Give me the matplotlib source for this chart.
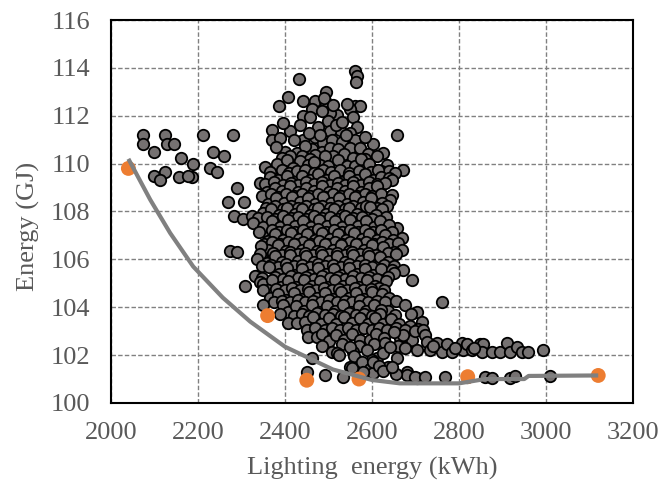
import matplotlib
matplotlib.use("Agg")
import matplotlib.pyplot as plt

plt.rcParams['font.family'] = ['Liberation Serif', 'DejaVu Serif']

# gray points: all simulated designs (lighting kWh, energy GJ)
left_group = [
    (2074, 111.2), (2074, 110.8), (2099, 110.5), (2124, 111.2), (2129, 110.8),
    (2145, 110.8), (2161, 110.25), (2189, 110.0), (2211, 111.2), (2234, 110.5),
    (2260, 110.3), (2280, 111.2), (2228, 109.8), (2243, 109.65), (2124, 109.65),
    (2099, 109.5), (2113, 109.3), (2156, 109.45), (2186, 109.45), (2177, 109.5),
    (2290, 109.0), (2269, 108.4), (2306, 108.4), (2283, 107.8), (2303, 107.7),
    (2324, 107.8), (2331, 107.5), (2274, 106.35), (2290, 106.3), (2308, 104.9),
    (2333, 105.3),
]

cluster_top = [
    (2432, 113.55), (2561, 113.85), (2565, 113.65), (2563, 113.4), (2494, 113.0),
    (2408, 112.8), (2441, 112.6), (2469, 112.6), (2492, 112.6), (2490, 112.75),
    (2386, 112.4), (2461, 112.3), (2561, 112.4), (2572, 112.4), (2550, 112.3),
    (2520, 112.05), (2503, 112.1), (2441, 112.0), (2457, 111.95), (2556, 111.95),
    (2498, 111.8), (2476, 111.55), (2566, 111.55), (2370, 111.4), (2411, 111.35),
    (2527, 111.4), (2503, 111.35), (2550, 111.3), (2657, 111.2), (2370, 111.0),
    (2388, 111.05), (2441, 111.0), (2469, 111.1), (2488, 110.85), (2508, 111.0),
    (2531, 110.9), (2561, 111.0), (2602, 110.8), (2517, 111.6), (2540, 111.2),
    (2455, 111.3), (2480, 111.2), (2420, 111.0), (2485, 112.2), (2530, 111.75),
    (2543, 112.5), (2435, 111.6), (2395, 111.7), (2583, 111.1), (2510, 112.45),
    (2400, 110.5), (2428, 110.45), (2462, 110.6), (2485, 110.5), (2503, 110.65),
    (2522, 110.6), (2549, 110.65), (2572, 110.65), (2625, 110.45), (2380, 110.7),
    (2445, 110.75), (2536, 110.4), (2590, 110.4), (2470, 110.35), (2510, 110.3),
    (2412, 110.3), (2392, 110.25), (2438, 110.3), (2457, 110.2), (2493, 110.3),
    (2556, 110.25), (2583, 110.2), (2612, 110.3),
]

cluster_mid = [
    (2381, 110.0), (2354, 109.85), (2404, 110.15), (2434, 110.1), (2453, 109.95),
    (2480, 109.95), (2498, 109.9), (2522, 110.15), (2542, 109.9), (2561, 109.9),
    (2575, 110.2), (2607, 109.75), (2634, 109.95), (2671, 109.75), (2418, 109.8),
    (2467, 110.05), (2592, 110.0), (2620, 109.7), (2640, 109.7),
    (2366, 109.65), (2392, 109.75), (2410, 109.6), (2428, 109.7), (2447, 109.75),
    (2466, 109.62), (2487, 109.72), (2505, 109.66), (2526, 109.75), (2548, 109.62),
    (2570, 109.7), (2597, 109.65), (2614, 109.75), (2652, 109.6),
    (2343, 109.2), (2365, 109.45), (2385, 109.3), (2404, 109.5), (2422, 109.25),
    (2440, 109.5), (2458, 109.3), (2476, 109.55), (2494, 109.3), (2512, 109.5),
    (2530, 109.25), (2548, 109.5), (2566, 109.3), (2584, 109.55), (2602, 109.3),
    (2620, 109.45), (2639, 109.4), (2646, 109.3),
    (2354, 109.15), (2375, 109.22), (2395, 109.12), (2413, 109.2), (2431, 109.1),
    (2449, 109.22), (2467, 109.14), (2485, 109.25), (2503, 109.1), (2521, 109.2),
    (2539, 109.12), (2557, 109.24), (2575, 109.1), (2593, 109.22), (2611, 109.15),
    (2630, 109.2),
    (2358, 108.8), (2376, 109.0), (2394, 108.85), (2412, 109.05), (2430, 108.8),
    (2448, 109.0), (2466, 108.85), (2484, 109.05), (2502, 108.8), (2520, 109.0),
    (2538, 108.85), (2556, 109.05), (2574, 108.8), (2592, 109.0), (2611, 109.05),
    (2630, 108.6),
    (2348, 108.65), (2367, 108.72), (2385, 108.62), (2403, 108.75), (2421, 108.66),
    (2439, 108.74), (2457, 108.64), (2475, 108.72), (2493, 108.62), (2511, 108.75),
    (2529, 108.66), (2547, 108.72), (2565, 108.64), (2583, 108.74), (2601, 108.66),
    (2620, 108.72), (2645, 108.7),
    (2361, 108.3), (2380, 108.55), (2398, 108.35), (2416, 108.6), (2434, 108.4),
    (2452, 108.55), (2470, 108.3), (2488, 108.6), (2506, 108.35), (2524, 108.55),
    (2542, 108.3), (2560, 108.6), (2579, 108.4), (2597, 108.55), (2641, 108.5),
    (2623, 108.35),
    (2356, 108.15), (2377, 108.22), (2395, 108.12), (2413, 108.24), (2431, 108.15),
    (2449, 108.22), (2467, 108.12), (2485, 108.25), (2503, 108.14), (2521, 108.22),
    (2539, 108.12), (2557, 108.24), (2575, 108.15), (2586, 108.22), (2612, 108.15),
    (2634, 108.22),
    (2350, 107.95), (2368, 108.1), (2386, 107.85), (2404, 108.15), (2422, 107.9),
    (2440, 108.1), (2458, 107.85), (2476, 108.15), (2494, 107.9), (2512, 108.1),
    (2530, 107.85), (2548, 108.15), (2566, 107.9), (2595, 108.2), (2623, 108.1),
    (2610, 107.85),
    (2338, 107.72), (2359, 107.78), (2377, 107.7), (2395, 107.8), (2413, 107.72),
    (2431, 107.78), (2449, 107.7), (2467, 107.8), (2485, 107.72), (2503, 107.78),
    (2521, 107.7), (2539, 107.8), (2557, 107.72), (2577, 107.78), (2600, 107.7),
    (2632, 107.78),
    (2326, 107.5), (2352, 107.2), (2349, 107.35), (2370, 107.6), (2388, 107.35),
    (2406, 107.65), (2424, 107.4), (2442, 107.6), (2460, 107.35), (2478, 107.65),
    (2496, 107.4), (2514, 107.6), (2532, 107.35), (2550, 107.65), (2568, 107.4),
    (2586, 107.6), (2604, 107.35), (2618, 107.6), (2657, 107.3), (2640, 107.45),
    (2341, 107.15), (2369, 107.22), (2387, 107.14), (2405, 107.24), (2423, 107.16),
    (2441, 107.22), (2459, 107.14), (2477, 107.25), (2495, 107.15), (2513, 107.22),
    (2531, 107.14), (2549, 107.24), (2567, 107.16), (2585, 107.22), (2603, 107.14),
    (2621, 107.22), (2645, 107.15),
    (2361, 106.75), (2378, 107.05), (2396, 106.8), (2414, 107.1), (2432, 106.85),
    (2450, 107.05), (2468, 106.8), (2486, 107.1), (2504, 106.85), (2522, 107.05),
    (2540, 106.8), (2558, 107.1), (2576, 106.85), (2594, 107.05), (2612, 106.8),
    (2630, 107.0), (2668, 106.9), (2648, 106.8),
    (2352, 106.65), (2370, 106.72), (2388, 106.64), (2406, 106.74), (2424, 106.66),
    (2442, 106.72), (2460, 106.64), (2478, 106.75), (2496, 106.65), (2514, 106.72),
    (2532, 106.64), (2550, 106.74), (2568, 106.66), (2586, 106.72), (2604, 106.64),
    (2622, 106.72), (2640, 106.66), (2660, 106.7),
    (2362, 106.4), (2345, 106.55), (2384, 106.6), (2402, 106.35), (2420, 106.65),
    (2438, 106.4), (2456, 106.6), (2474, 106.35), (2492, 106.65), (2510, 106.4),
    (2528, 106.6), (2546, 106.35), (2564, 106.65), (2582, 106.4), (2600, 106.6),
    (2625, 106.5), (2668, 106.4), (2650, 106.3),
]

cluster_low = [
    (2342, 106.22), (2373, 106.28), (2393, 106.2), (2411, 106.3), (2429, 106.22),
    (2447, 106.28), (2465, 106.2), (2483, 106.3), (2501, 106.22), (2519, 106.28),
    (2537, 106.2), (2555, 106.3), (2573, 106.22), (2591, 106.28), (2609, 106.2),
    (2636, 106.28), (2656, 106.22),
    (2336, 106.0), (2358, 105.85), (2376, 106.15), (2394, 105.9), (2412, 106.2),
    (2430, 105.95), (2448, 106.15), (2466, 105.9), (2484, 106.2), (2502, 105.95),
    (2520, 106.15), (2538, 105.9), (2556, 106.2), (2574, 105.95), (2592, 106.15),
    (2618, 106.1), (2636, 105.9),
    (2347, 105.72), (2367, 105.78), (2385, 105.7), (2403, 105.8), (2421, 105.72),
    (2439, 105.78), (2457, 105.7), (2475, 105.8), (2493, 105.72), (2511, 105.78),
    (2529, 105.7), (2547, 105.8), (2565, 105.72), (2583, 105.78), (2601, 105.7),
    (2627, 105.78), (2650, 105.72),
    (2332, 105.3), (2364, 105.7), (2386, 105.4), (2404, 105.65), (2422, 105.35),
    (2440, 105.6), (2458, 105.35), (2476, 105.65), (2494, 105.4), (2512, 105.6),
    (2530, 105.35), (2548, 105.65), (2566, 105.4), (2584, 105.6), (2602, 105.35),
    (2620, 105.6), (2646, 105.55), (2671, 105.55), (2651, 105.45),
    (2348, 105.22), (2376, 105.28), (2395, 105.2), (2413, 105.3), (2431, 105.22),
    (2449, 105.28), (2467, 105.2), (2485, 105.3), (2503, 105.22), (2521, 105.28),
    (2539, 105.2), (2557, 105.3), (2575, 105.22), (2593, 105.28), (2611, 105.2),
    (2637, 105.28),
    (2342, 105.05), (2349, 104.95), (2370, 105.15), (2390, 104.85), (2408, 105.1),
    (2426, 104.85), (2444, 105.15), (2462, 104.9), (2480, 105.1), (2498, 104.85),
    (2516, 105.15), (2534, 104.9), (2552, 105.1), (2570, 104.85), (2588, 105.15),
    (2606, 104.9), (2632, 105.1), (2692, 105.15), (2615, 104.8),
    (2360, 104.72), (2380, 104.78), (2399, 104.7), (2417, 104.8), (2435, 104.72),
    (2453, 104.78), (2471, 104.7), (2489, 104.8), (2507, 104.72), (2525, 104.78),
    (2543, 104.7), (2561, 104.8), (2579, 104.72), (2597, 104.78), (2628, 104.72),
    (2349, 104.7), (2365, 104.4), (2384, 104.55), (2402, 104.3), (2420, 104.6),
    (2438, 104.35), (2456, 104.65), (2474, 104.4), (2492, 104.6), (2510, 104.35),
    (2528, 104.65), (2546, 104.4), (2564, 104.6), (2582, 104.35), (2600, 104.65),
    (2622, 104.55), (2640, 104.4),
    (2375, 104.22), (2393, 104.28), (2411, 104.2), (2429, 104.3), (2447, 104.22),
    (2465, 104.28), (2483, 104.2), (2501, 104.3), (2519, 104.22), (2537, 104.28),
    (2555, 104.2), (2573, 104.3), (2591, 104.22), (2611, 104.28), (2631, 104.2),
    (2655, 104.28),
    (2349, 104.1), (2395, 104.1), (2407, 103.8), (2425, 104.05), (2443, 103.85),
    (2461, 104.1), (2479, 103.8), (2497, 104.05), (2515, 103.85), (2533, 104.1),
    (2551, 103.8), (2569, 104.05), (2587, 103.85), (2605, 104.1), (2637, 103.85),
    (2676, 104.1), (2703, 103.8), (2761, 104.2), (2620, 103.9),
    (2420, 103.65), (2438, 103.72), (2456, 103.64), (2474, 103.74), (2492, 103.66),
    (2510, 103.72), (2528, 103.64), (2546, 103.74), (2564, 103.66), (2582, 103.72),
    (2600, 103.64), (2618, 103.72), (2653, 103.66), (2690, 103.7),
    (2388, 103.7), (2408, 103.35), (2428, 103.35), (2446, 103.4), (2464, 103.6),
    (2482, 103.3), (2500, 103.55), (2518, 103.3), (2536, 103.6), (2554, 103.35),
    (2572, 103.55), (2590, 103.3), (2608, 103.55), (2626, 103.3), (2644, 103.5),
    (2662, 103.3), (2715, 103.4), (2687, 103.2),
    (2450, 103.05), (2470, 103.12), (2491, 103.04), (2509, 103.14), (2527, 103.06),
    (2545, 103.12), (2563, 103.04), (2581, 103.14), (2599, 103.06), (2617, 103.12),
    (2635, 103.04), (2655, 103.14), (2676, 103.06), (2705, 103.1),
    (2453, 102.75), (2474, 102.75), (2486, 102.9), (2500, 102.6), (2518, 102.85),
    (2536, 102.65), (2554, 102.9), (2572, 102.65), (2595, 102.65), (2610, 102.9),
    (2628, 102.7), (2664, 102.7), (2692, 102.65), (2699, 103.0), (2717, 103.05),
    (2671, 102.85), (2650, 102.95), (2722, 102.85),
    (2485, 102.4), (2530, 102.45), (2570, 102.4), (2605, 102.45), (2630, 102.5),
    (2660, 102.4),
]

tail = [
    (2462, 101.9), (2508, 102.15), (2520, 102.1), (2525, 102.0), (2556, 102.15),
    (2549, 102.35), (2559, 101.96), (2588, 102.2), (2611, 101.9), (2600, 101.8),
    (2625, 102.1), (2641, 102.35), (2657, 101.9), (2676, 102.3), (2703, 102.2),
    (2726, 102.55), (2749, 102.5), (2733, 102.2), (2761, 102.15), (2772, 102.45),
    (2784, 102.15), (2807, 102.5), (2809, 102.2), (2818, 102.45), (2830, 102.2),
    (2848, 102.47), (2855, 102.45), (2853, 102.15), (2876, 102.15), (2894, 102.15),
    (2910, 102.5), (2917, 102.15), (2933, 102.35), (2945, 102.15), (2959, 102.15),
    (2993, 102.2), (2740, 102.4), (2790, 102.3), (2835, 102.3),
    (2451, 101.3), (2492, 101.15), (2533, 101.1), (2549, 101.5), (2553, 101.47),
    (2577, 101.7), (2595, 101.4), (2603, 101.26), (2603, 101.7), (2637, 101.5),
    (2615, 101.55), (2625, 101.35), (2680, 101.3), (2687, 101.1), (2703, 101.05),
    (2680, 101.15), (2699, 101.1), (2722, 101.1), (2768, 101.1), (2818, 101.1),
    (2860, 101.1), (2876, 101.05), (2917, 101.05), (2929, 101.13), (3010, 101.13),
    (2655, 101.2), (2645, 101.5), (2580, 101.3),
]

# orange: optimal designs
pareto_x = [2040, 2360, 2450, 2570, 2820, 3120]
pareto_y = [109.8, 103.65, 100.95, 101.0, 101.1, 101.15]

# gray trend curve
trend_x = [2040, 2090, 2136, 2189, 2257, 2320, 2400, 2510, 2600, 2664,
           2800, 2860, 2950, 2960, 3120]
trend_y = [110.2, 108.5, 107.1, 105.7, 104.4, 103.4, 102.35, 101.4, 100.96, 100.82,
           100.82, 101.0, 101.0, 101.13, 101.15]

gray_pts = left_group + cluster_top + cluster_mid + cluster_low + tail
gx = [p[0] for p in gray_pts]
gy = [p[1] for p in gray_pts]

fig = plt.figure(figsize=(6.63, 4.93), dpi=100)
ax = fig.add_axes([0.1674, 0.1826, 0.7874, 0.7768])

ax.scatter(gx, gy, s=68, c='#757171', edgecolors='black', linewidths=1.3, zorder=3)
ax.scatter(pareto_x, pareto_y, s=115, c='#ED7D31', edgecolors='none', zorder=4)
ax.plot(trend_x, trend_y, color='#808080', lw=3, zorder=5, solid_capstyle='butt')

ax.set_xlim(2000, 3200)
ax.set_ylim(100, 116)
ax.set_xticks(range(2000, 3201, 200))
ax.set_yticks(range(100, 117, 2))
ax.grid(True, color='#808080', linestyle=(0, (3.2, 1.6)), lw=1.0, zorder=0)
ax.set_axisbelow(True)
ax.tick_params(length=0, labelsize=19, labelcolor='#595959')
ax.tick_params(axis='x', pad=14)
ax.tick_params(axis='y', pad=15)
for s in ax.spines.values():
    s.set_linewidth(1.5)
    s.set_color('black')

ax.set_xlabel('Lighting  energy (kWh)', fontsize=19, color='#595959')
ax.set_ylabel('Energy (GJ)', fontsize=19, color='#595959')
ax.xaxis.set_label_coords(0.5, -0.14)
ax.yaxis.set_label_coords(-0.136, 0.46)

fig.savefig('out.png', dpi=100)
